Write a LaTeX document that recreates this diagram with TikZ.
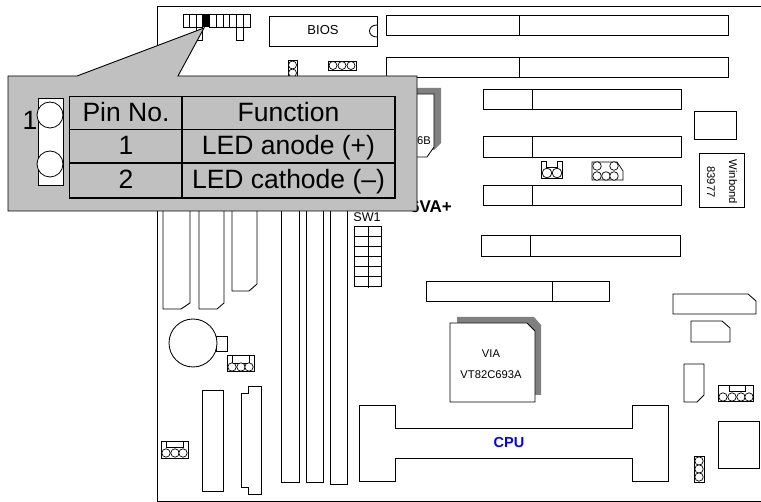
\documentclass[tikz,border=0pt]{standalone}
\usepackage{fontspec}
\setmainfont{Liberation Sans}
\definecolor{callout}{HTML}{C0C0C0}
\definecolor{shadowgray}{HTML}{808080}
\tikzset{
  part/.style={draw=black,line width=0.85pt,fill=white,line join=miter},
  pin/.style={draw=black,line width=0.7pt,fill=white},
  thin part/.style={draw=black,line width=0.6pt},
  label/.style={inner sep=0pt,font=\fontsize{11.2}{13}\selectfont},
  cell/.style={inner sep=0pt,font=\fontsize{26.5}{29}\selectfont},
}
\newcommand{\slotbox}[5]{% x1 y1 x2 y2 divider
  \draw[part] (#1,#2) rectangle (#3,#4);
  \draw[part] (#5,#2) -- (#5,#4+1);
}
\begin{document}
\begin{tikzpicture}[x=1pt,y=-1pt]
\useasboundingbox (0,0) rectangle (761,502);
\fill[white] (0,0) rectangle (761,502);
% board outline
\draw[line width=0.9pt] (761,6) -- (157,6) -- (157,501) -- (761,501);
% top header
\foreach \a/\b in {183/189,189/196,196/202,216/223,223/229,229/236,236/243,243/250}
  \draw[part] (\a,14) rectangle (\b,27);
\fill[black] (202,14) rectangle (209,27);
\draw[part] (209,14) rectangle (216,27);
\draw[part] (196,27) rectangle (202,40);
\draw[part] (236,27) rectangle (243,40);
% BIOS
\draw[part] (269,16) rectangle (377,46);
\draw[part] (377,25) .. controls (367,25) and (367,37) .. (377,37);
\node[label,font=\fontsize{13}{15}\selectfont] (bios) at (323,30) {BIOS};
% memory-like top slots
\slotbox{386}{15}{728}{35}{519}
\slotbox{386}{57}{728}{77}{519}
% small jumpers top
\draw[pin] (288,60) rectangle (297,77);
\draw[pin] (292.5,65) circle[radius=4];
\draw[pin] (292.5,73) circle[radius=4];
\draw[pin] (328,61) rectangle (356,70);
\foreach \x in {333,342,351} \draw[pin] (\x,65.5) circle[radius=4];
% south bridge
\fill[shadowgray] (380,88) -- (441,88) -- (441,143) -- (434,150) -- (380,150) -- cycle;
\draw[part] (380,94) -- (434,94) -- (434,147) -- (427,157) -- (380,157) -- cycle;
\node[label,anchor=east] (sb) at (431,141) {6B};
% PCI slots
\slotbox{483}{89}{681}{109}{532}
\slotbox{483}{136}{681}{157}{532}
\slotbox{483}{185}{681}{205}{532}
\slotbox{481}{235}{680}{256}{530}
\slotbox{426}{281}{609}{301}{552}
% right chips
\draw[part] (694,111) rectangle (736,139);
\draw[part] (699,153) rectangle (744,207);
\node[label,rotate=-90] (winbond) at (733,182) {Winbond};
\node[label,rotate=-90] (num) at (711,182) {83977};
% jumpers mid
\draw[pin] (541,161) -- (546,161) -- (546,167) -- (557,167) -- (557,161) -- (562,161) -- (562,178) -- (541,178) -- cycle;
\foreach \x in {547,557} \draw[pin] (\x,173) circle[radius=4.8];
\draw[pin] (592,162) -- (617,162) -- (623,171) -- (623,180) -- (592,180) -- cycle;
\foreach \x/\y in {597/166,614/166,597/176,606/176,614/176} \draw[pin] (\x,\y) circle[radius=4.3];
% model name
\node[inner sep=0pt,anchor=base east,font=\bfseries\fontsize{17}{19}\selectfont] (model) at (452,213) {6VA+};
% SW1
\node[label,font=\fontsize{12.6}{14}\selectfont] (sw) at (367,217) {SW1};
\draw[thin part] (354,226) rectangle (381,286);
\foreach \y in {236,246,256,266,276} \draw[thin part] (354,\y) -- (381,\y);
\draw[thin part] (368,226) -- (368,288);
% AGP/ISA-style left slots
\draw[part] (163,200) -- (163,309) -- (181,309) -- (190,303) -- (190,200);
\draw[part] (199,200) -- (199,309) -- (217,309) -- (224,303) -- (224,200);
\draw[part] (232,200) -- (232,291) -- (249,291) -- (257,284) -- (257,200);
% DIMMs
\draw[part] (281,200) rectangle (299,482);
\draw[part] (306,200) rectangle (323,482);
\draw[part] (330,200) rectangle (347,484);
% battery
\draw[part] (216,336) rectangle (227,351);
\draw[part] (193,343) circle[radius=24];
% left jumpers
\draw[pin] (227,355) rectangle (254,371);
\draw[pin] (232,355) rectangle (249,363);
\foreach \x in {232,241,249} \draw[pin] (\x,367) circle[radius=4.2];
\draw[pin] (161,441) rectangle (188,458);
\draw[pin] (166,441) rectangle (183,447);
\foreach \x in {166,175,183} \draw[pin] (\x,453) circle[radius=4.2];
% floppy / IDE
\draw[part] (202,390) rectangle (223,491);
\draw[part] (248,386) -- (261,386) -- (261,494) -- (248,494) -- (248,487) -- (241,487) -- (241,393) -- (248,393) -- cycle;
% CPU slot
\draw[part] (395,428) -- (395,405) -- (359,405) -- (359,481) -- (395,481) -- (395,458) -- (632,458) -- (632,481) -- (668,481) -- (668,405) -- (632,405) -- (632,428) -- cycle;
\node[inner sep=0pt,text=blue,font=\bfseries\fontsize{14.5}{16}\selectfont] (cpu) at (509,443) {CPU};
% north bridge
\fill[shadowgray] (457,317) -- (534,317) -- (541,325) -- (541,395) -- (457,395) -- cycle;
\draw[part] (450,323) -- (527,323) -- (535,331) -- (535,402) -- (450,402) -- cycle;
\node[label] (via) at (491,354) {VIA};
\node[label] (nb) at (491,375) {VT82C693A};
% right lower parts
\draw[part] (673,294) -- (748,294) -- (756,301) -- (756,314) -- (673,314) -- cycle;
\draw[part] (691,321) -- (722,321) -- (730,328) -- (730,342) -- (691,342) -- cycle;
\draw[part] (684,364) -- (704,364) -- (704,395) -- (697,402) -- (684,402) -- cycle;
\draw[pin] (718,385) rectangle (753,401);
\draw[pin] (729,385) rectangle (745,391);
\foreach \x in {723,732,741,749} \draw[pin] (\x,397) circle[radius=4.2];
\draw[part] (718,421) rectangle (759,468);
\draw[pin] (694,456) rectangle (704,482);
\foreach \y in {461,469,477} \draw[pin] (699,\y) circle[radius=4.2];
% callout
\draw[line width=0.9pt,fill=callout,line join=miter] (8,76) -- (77,76) -- (204,28) -- (178,76) -- (417,76) -- (417,211) -- (8,211) -- cycle;
\draw[part] (38,98) rectangle (63,185);
\draw[pin,line width=0.8pt] (50,115) circle[radius=13];
\draw[pin,line width=0.8pt] (50,164) circle[radius=13];
\node[cell] (pinone) at (30,120) {1};
% table
\draw[line width=1.6pt,line join=miter] (69.5,96.5) rectangle (395,198);
\draw[line width=1.6pt] (69.5,129.5) -- (395,129.5);
\draw[line width=1.6pt] (69.5,163) -- (395,163);
\draw[line width=1.6pt] (182,96.5) -- (182,198);
\node[cell,anchor=base] (h1) at (126,122) {Pin No.};
\node[cell,anchor=base] (h2) at (288.5,122) {Function};
\node[cell,anchor=base] (r11) at (126,155) {1};
\node[cell,anchor=base] (r12) at (288.5,155) {LED anode (+)};
\node[cell,anchor=base] (r21) at (126,189) {2};
\node[cell,anchor=base] (r22) at (288.5,189) {LED cathode (–)};
\end{tikzpicture}
\end{document}
